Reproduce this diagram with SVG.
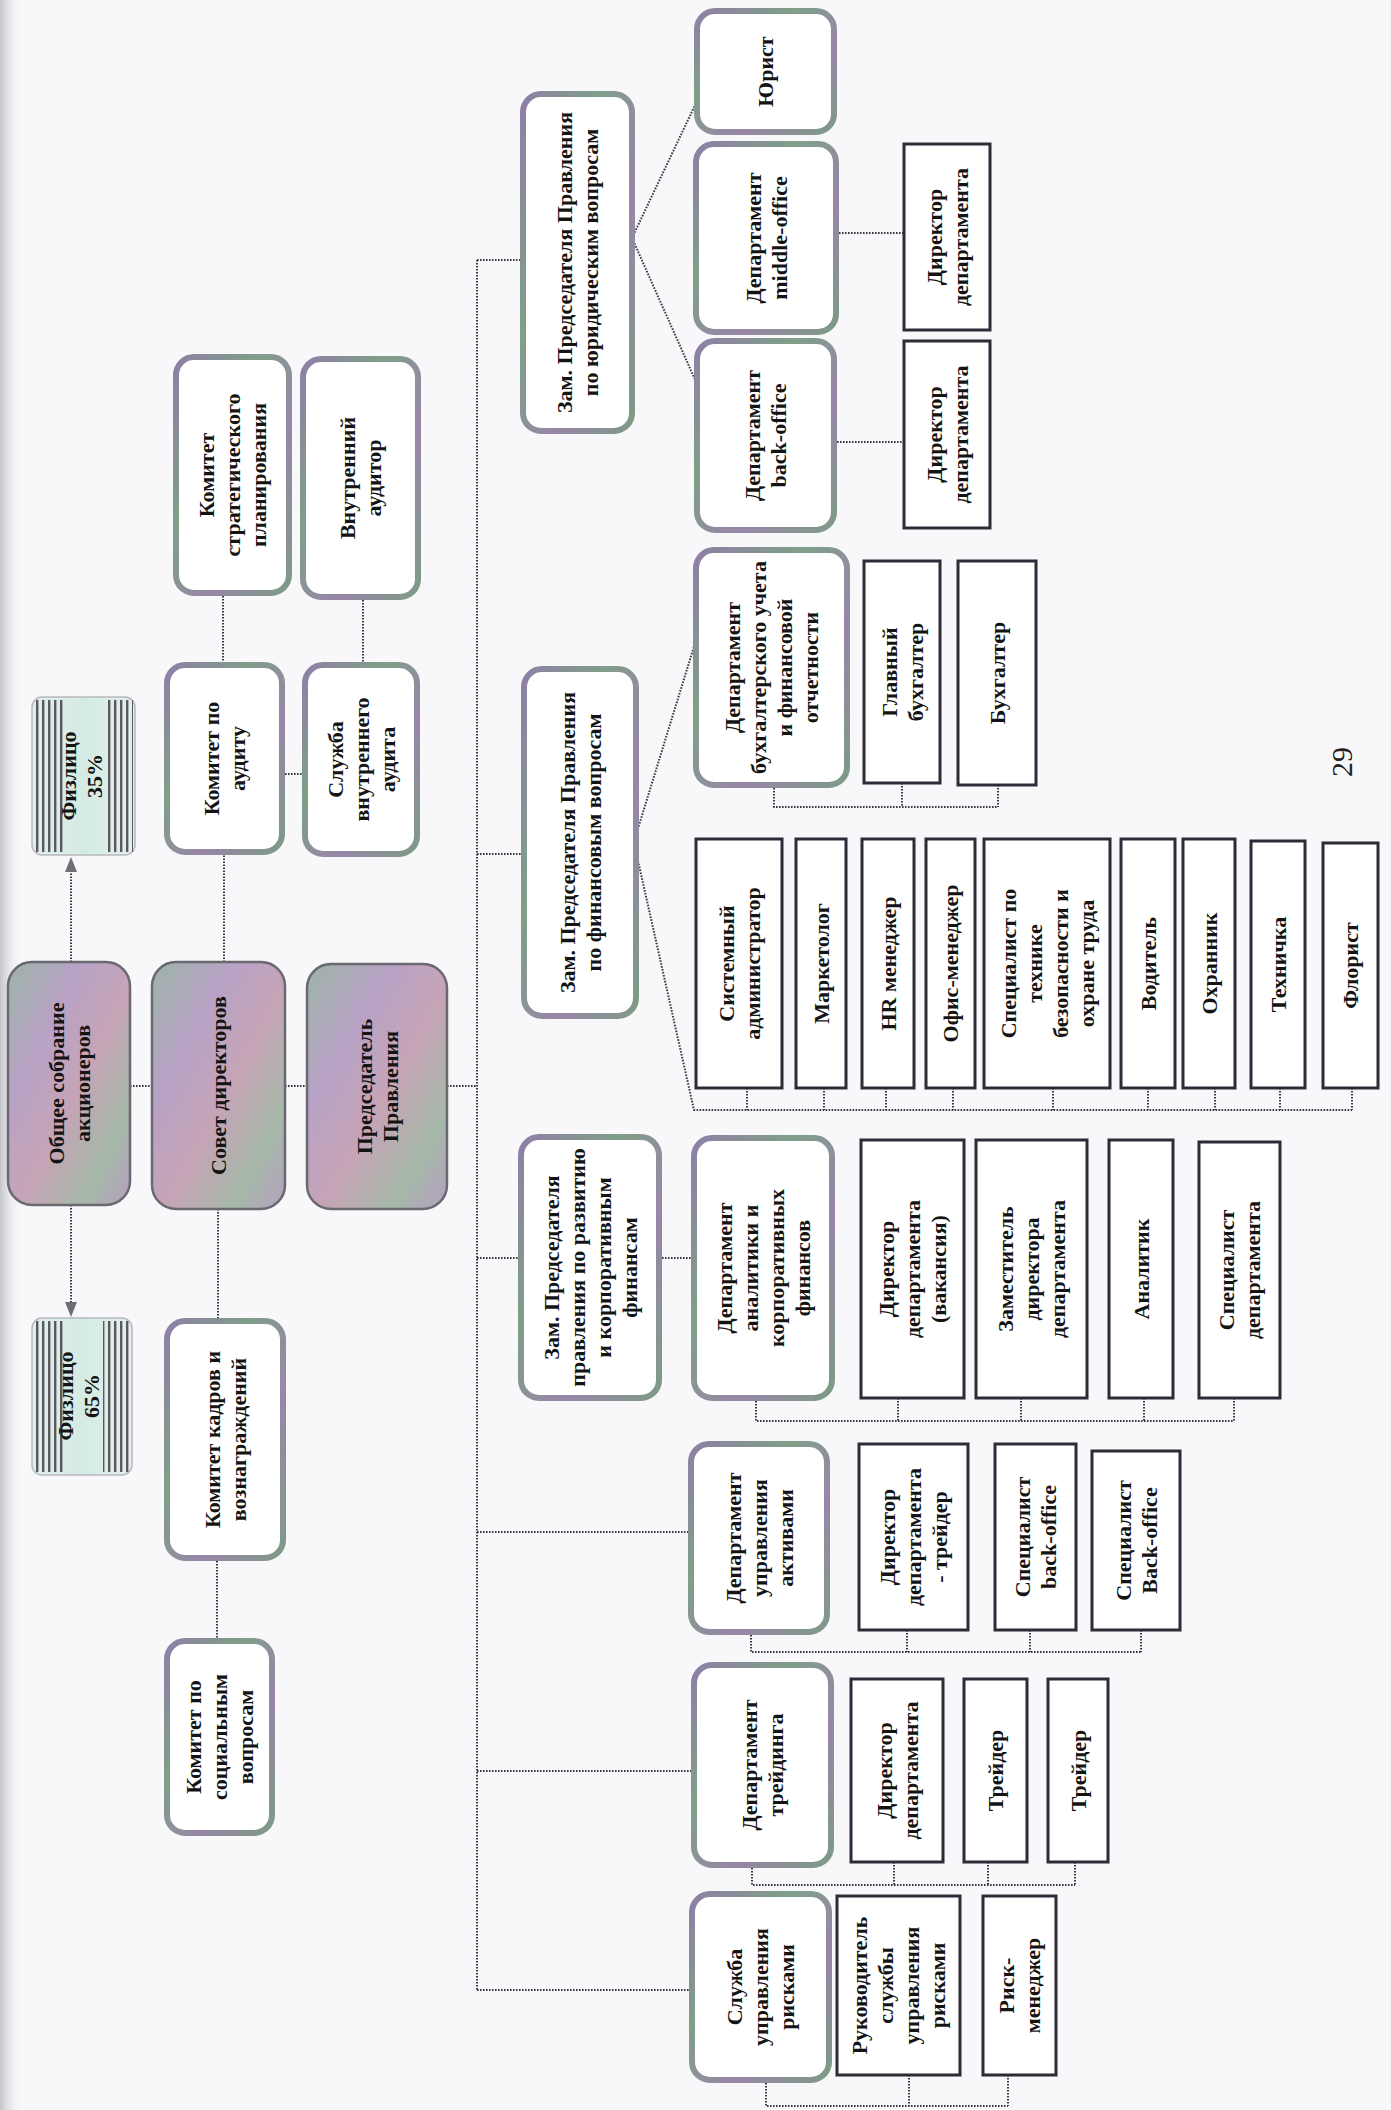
<svg xmlns="http://www.w3.org/2000/svg" width="1391" height="2110" viewBox="0 0 1391 2110">
<style>
.t{font-family:"Liberation Serif","Times New Roman",serif;font-weight:bold;font-size:22px;fill:#141414;text-anchor:middle}
.rn{fill:#ffffff;stroke:url(#rb);stroke-width:6}
.tn{fill:url(#tf);stroke:#6a6870;stroke-width:2.5}
.sq{fill:#ffffff;stroke:#2f2b36;stroke-width:3}
.fz{fill:url(#fzf);stroke:#b8b8c0;stroke-width:1.5}
.c{fill:none;stroke:#3a3a40;stroke-width:2;stroke-dasharray:1.6 1.4}
.ar{fill:#6e6e74}
</style>
<defs>
<linearGradient id="rb" x1="0" y1="0" x2="1" y2="1">
<stop offset="0" stop-color="#8f7fa6"/>
<stop offset="0.35" stop-color="#7f9f88"/>
<stop offset="0.65" stop-color="#9886a8"/>
<stop offset="1" stop-color="#7e9a86"/>
</linearGradient>
<linearGradient id="tf" x1="0" y1="0" x2="1" y2="1">
<stop offset="0" stop-color="#9cb4a6"/>
<stop offset="0.3" stop-color="#b8a2c6"/>
<stop offset="0.55" stop-color="#c6a4b6"/>
<stop offset="0.8" stop-color="#a6b8a8"/>
<stop offset="1" stop-color="#b4a0c0"/>
</linearGradient>
<linearGradient id="fzf" x1="0" y1="0" x2="1" y2="0">
<stop offset="0" stop-color="#e2eeea"/>
<stop offset="0.5" stop-color="#d4ebe4"/>
<stop offset="1" stop-color="#e6efec"/>
</linearGradient>
<linearGradient id="edge" x1="0" y1="0" x2="1" y2="0">
<stop offset="0" stop-color="#c4c4ca"/>
<stop offset="1" stop-color="#f7f7f9" stop-opacity="0"/>
</linearGradient>
<pattern id="st" width="6" height="10" patternUnits="userSpaceOnUse">
<rect x="0" y="0" width="2.4" height="10" fill="#59595f"/>
</pattern>
</defs>
<rect x="0" y="0" width="1391" height="2110" fill="#f8f8fa"/>
<rect x="0" y="0" width="22" height="2110" fill="url(#edge)"/>

<g id="connectors">
<path class="c" d="M71 962V872M71 1205V1302"/>
<polygon class="ar" points="65,872 77,872 71,857"/>
<polygon class="ar" points="65,1302 77,1302 71,1317"/>
<path class="c" d="M130 1086H152M285 1086H307M447 1086H477"/>
<path class="c" d="M224 962V852M223 593V665M363 597V665M282 774H305M218 1209V1321M217 1558V1641"/>
<path class="c" d="M477 260V1990"/>
<path class="c" d="M477 260H523M477 854H524M477 1258H521M477 1532H691M477 1771H694M477 1990H692"/>
<path class="c" d="M632 238L697 101M632 238L697 384M836 233H904M834 442H904"/>
<path class="c" d="M636 835L696 640M636 852L694 1110H1352"/>
<path class="c" d="M747 1088V1110M824 1088V1110M886 1088V1110M953 1088V1110M1053 1088V1110M1148 1088V1110M1215 1088V1110M1280 1088V1110M1352 1088V1110"/>
<path class="c" d="M774 785V807H998M902 783V807M998 785V807"/>
<path class="c" d="M659 1258H694"/>
<path class="c" d="M756 1398V1421H1234M898 1398V1421M1021 1398V1421M1144 1398V1421M1234 1398V1421"/>
<path class="c" d="M751 1632V1652H1141M907 1630V1652M1030 1630V1652M1141 1630V1652"/>
<path class="c" d="M752 1865V1885H1075M894 1862V1885M988 1862V1885M1075 1862V1885"/>
<path class="c" d="M766 2080V2106H1008M909 2075V2106M1008 2075V2106"/>
</g>

<g id="f35">
<rect class="fz" x="32" y="697" width="103" height="158" rx="10"/>
<rect x="34" y="700" width="30" height="152" fill="url(#st)"/>
<rect x="106" y="700" width="27" height="152" fill="url(#st)"/>
<text class="t" transform="translate(81 776) rotate(-90)"><tspan x="0" y="-5.5">Физлицо</tspan><tspan x="0" y="20.5">35%</tspan></text>
</g>
<g id="f65">
<rect class="fz" x="32" y="1318" width="100" height="157" rx="10"/>
<rect x="34" y="1321" width="30" height="151" fill="url(#st)"/>
<rect x="103" y="1321" width="27" height="151" fill="url(#st)"/>
<text class="t" transform="translate(78 1396) rotate(-90)"><tspan x="0" y="-5.5">Физлицо</tspan><tspan x="0" y="20.5">65%</tspan></text>
</g>

<g id="obsh"><rect class="tn" x="8" y="962" width="122" height="243" rx="24"/>
<text class="t" transform="translate(69 1083.5) rotate(-90)"><tspan x="0" y="-5.5">Общее собрание</tspan><tspan x="0" y="20.5">акционеров</tspan></text></g>
<g id="sovet"><rect class="tn" x="152" y="962" width="133" height="247" rx="24"/>
<text class="t" transform="translate(218.5 1085.5) rotate(-90)"><tspan x="0" y="7.5">Совет директоров</tspan></text></g>
<g id="pred"><rect class="tn" x="307" y="964" width="140" height="245" rx="24"/>
<text class="t" transform="translate(377 1086.5) rotate(-90)"><tspan x="0" y="-5.5">Председатель</tspan><tspan x="0" y="20.5">Правления</tspan></text></g>

<g id="kom_strat"><rect class="rn" x="176" y="357" width="113" height="236" rx="18"/>
<text class="t" transform="translate(232.5 475) rotate(-90)"><tspan x="0" y="-18.5">Комитет</tspan><tspan x="0" y="7.5">стратегического</tspan><tspan x="0" y="33.5">планирования</tspan></text></g>
<g id="vnutr_aud"><rect class="rn" x="303" y="359" width="115" height="238" rx="18"/>
<text class="t" transform="translate(360.5 478) rotate(-90)"><tspan x="0" y="-5.5">Внутренний</tspan><tspan x="0" y="20.5">аудитор</tspan></text></g>
<g id="kom_audit"><rect class="rn" x="167" y="665" width="115" height="187" rx="18"/>
<text class="t" transform="translate(224.5 758.5) rotate(-90)"><tspan x="0" y="-5.5">Комитет по</tspan><tspan x="0" y="20.5">аудиту</tspan></text></g>
<g id="sluzhba_va"><rect class="rn" x="305" y="665" width="112" height="189" rx="18"/>
<text class="t" transform="translate(361 759.5) rotate(-90)"><tspan x="0" y="-18.5">Служба</tspan><tspan x="0" y="7.5">внутреннего</tspan><tspan x="0" y="33.5">аудита</tspan></text></g>
<g id="kom_kadr"><rect class="rn" x="167" y="1321" width="116" height="237" rx="18"/>
<text class="t" transform="translate(225 1439.5) rotate(-90)"><tspan x="0" y="-5.5">Комитет кадров и</tspan><tspan x="0" y="20.5">вознаграждений</tspan></text></g>
<g id="kom_soc"><rect class="rn" x="167" y="1641" width="105" height="192" rx="18"/>
<text class="t" transform="translate(219.5 1737) rotate(-90)"><tspan x="0" y="-18.5">Комитет  по</tspan><tspan x="0" y="7.5">социальным</tspan><tspan x="0" y="33.5">вопросам</tspan></text></g>

<g id="zam_jur"><rect class="rn" x="523" y="94" width="109" height="337" rx="18"/>
<text class="t" transform="translate(577.5 262.5) rotate(-90)"><tspan x="0" y="-5.5">Зам. Председателя Правления</tspan><tspan x="0" y="20.5">по юридическим вопросам</tspan></text></g>
<g id="jurist"><rect class="rn" x="697" y="11" width="137" height="121" rx="18"/>
<text class="t" transform="translate(765.5 71.5) rotate(-90)"><tspan x="0" y="7.5">Юрист</tspan></text></g>
<g id="dep_mid"><rect class="rn" x="696" y="144" width="140" height="188" rx="18"/>
<text class="t" transform="translate(766 238) rotate(-90)"><tspan x="0" y="-5.5">Департамент</tspan><tspan x="0" y="20.5">middle-office</tspan></text></g>
<g id="dep_back"><rect class="rn" x="697" y="341" width="137" height="189" rx="18"/>
<text class="t" transform="translate(765.5 435.5) rotate(-90)"><tspan x="0" y="-5.5">Департамент</tspan><tspan x="0" y="20.5">back-office</tspan></text></g>
<g id="dep_buh"><rect class="rn" x="696" y="550" width="151" height="235" rx="18"/>
<text class="t" transform="translate(771.5 667.5) rotate(-90)"><tspan x="0" y="-31.5">Департамент</tspan><tspan x="0" y="-5.5">бухгалтерского учета</tspan><tspan x="0" y="20.5">и финансовой</tspan><tspan x="0" y="46.5">отчетности</tspan></text></g>
<g id="zam_fin"><rect class="rn" x="524" y="669" width="112" height="347" rx="18"/>
<text class="t" transform="translate(580 842.5) rotate(-90)"><tspan x="0" y="-5.5">Зам. Председателя Правления</tspan><tspan x="0" y="20.5">по финансовым вопросам</tspan></text></g>
<g id="zam_razv"><rect class="rn" x="521" y="1137" width="138" height="261" rx="18"/>
<text class="t" transform="translate(590 1267.5) rotate(-90)"><tspan x="0" y="-31.5">Зам. Председателя</tspan><tspan x="0" y="-5.5">правления по  развитию</tspan><tspan x="0" y="20.5">и корпоративным</tspan><tspan x="0" y="46.5">финансам</tspan></text></g>
<g id="dep_anal"><rect class="rn" x="694" y="1138" width="138" height="260" rx="18"/>
<text class="t" transform="translate(763 1268) rotate(-90)"><tspan x="0" y="-31.5">Департамент</tspan><tspan x="0" y="-5.5">аналитики и</tspan><tspan x="0" y="20.5">корпоративных</tspan><tspan x="0" y="46.5">финансов</tspan></text></g>
<g id="dep_akt"><rect class="rn" x="691" y="1444" width="136" height="188" rx="18"/>
<text class="t" transform="translate(759 1538) rotate(-90)"><tspan x="0" y="-18.5">Департамент</tspan><tspan x="0" y="7.5">управления</tspan><tspan x="0" y="33.5">активами</tspan></text></g>
<g id="dep_trade"><rect class="rn" x="694" y="1665" width="137" height="200" rx="18"/>
<text class="t" transform="translate(762.5 1765) rotate(-90)"><tspan x="0" y="-5.5">Департамент</tspan><tspan x="0" y="20.5">трейдинга</tspan></text></g>
<g id="sl_risk"><rect class="rn" x="692" y="1894" width="137" height="186" rx="18"/>
<text class="t" transform="translate(760.5 1987) rotate(-90)"><tspan x="0" y="-18.5">Служба</tspan><tspan x="0" y="7.5">управления</tspan><tspan x="0" y="33.5">рисками</tspan></text></g>

<g id="dir_mid"><rect class="sq" x="904" y="144" width="86" height="186"/>
<text class="t" transform="translate(947 237) rotate(-90)"><tspan x="0" y="-5.5">Директор</tspan><tspan x="0" y="20.5">департамента</tspan></text></g>
<g id="dir_back"><rect class="sq" x="904" y="341" width="86" height="187"/>
<text class="t" transform="translate(947 434.5) rotate(-90)"><tspan x="0" y="-5.5">Директор</tspan><tspan x="0" y="20.5">департамента</tspan></text></g>
<g id="gl_buh"><rect class="sq" x="864" y="561" width="76" height="222"/>
<text class="t" transform="translate(902 672) rotate(-90)"><tspan x="0" y="-5.5">Главный</tspan><tspan x="0" y="20.5">бухгалтер</tspan></text></g>
<g id="buh"><rect class="sq" x="958" y="561" width="78" height="224"/>
<text class="t" transform="translate(997 673) rotate(-90)"><tspan x="0" y="7.5">Бухгалтер</tspan></text></g>

<g id="sysadm"><rect class="sq" x="696" y="839" width="86" height="249"/>
<text class="t" transform="translate(739 963.5) rotate(-90)"><tspan x="0" y="-5.5">Системный</tspan><tspan x="0" y="20.5">администратор</tspan></text></g>
<g id="market"><rect class="sq" x="796" y="839" width="50" height="249"/>
<text class="t" transform="translate(821 963.5) rotate(-90)"><tspan x="0" y="7.5">Маркетолог</tspan></text></g>
<g id="hr"><rect class="sq" x="862" y="839" width="52" height="249"/>
<text class="t" transform="translate(888 963.5) rotate(-90)"><tspan x="0" y="7.5">HR менеджер</tspan></text></g>
<g id="office"><rect class="sq" x="926" y="839" width="49" height="249"/>
<text class="t" transform="translate(950.5 963.5) rotate(-90)"><tspan x="0" y="7.5">Офис-менеджер</tspan></text></g>
<g id="spec_tb"><rect class="sq" x="984" y="839" width="126" height="249"/>
<text class="t" transform="translate(1047 963.5) rotate(-90)"><tspan x="0" y="-31.5">Специалист по</tspan><tspan x="0" y="-5.5">технике</tspan><tspan x="0" y="20.5">безопасности и</tspan><tspan x="0" y="46.5">охране труда</tspan></text></g>
<g id="voditel"><rect class="sq" x="1121" y="839" width="54" height="249"/>
<text class="t" transform="translate(1148 963.5) rotate(-90)"><tspan x="0" y="7.5">Водитель</tspan></text></g>
<g id="ohran"><rect class="sq" x="1183" y="839" width="52" height="249"/>
<text class="t" transform="translate(1209 963.5) rotate(-90)"><tspan x="0" y="7.5">Охранник</tspan></text></g>
<g id="tehn"><rect class="sq" x="1251" y="841" width="54" height="247"/>
<text class="t" transform="translate(1278 964.5) rotate(-90)"><tspan x="0" y="7.5">Техничка</tspan></text></g>
<g id="florist"><rect class="sq" x="1323" y="843" width="55" height="245"/>
<text class="t" transform="translate(1350.5 965.5) rotate(-90)"><tspan x="0" y="7.5">Флорист</tspan></text></g>

<g id="dir_vak"><rect class="sq" x="861" y="1140" width="103" height="258"/>
<text class="t" transform="translate(912.5 1269) rotate(-90)"><tspan x="0" y="-18.5">Директор</tspan><tspan x="0" y="7.5">департамента</tspan><tspan x="0" y="33.5">(вакансия)</tspan></text></g>
<g id="zam_dir"><rect class="sq" x="976" y="1140" width="111" height="258"/>
<text class="t" transform="translate(1031.5 1269) rotate(-90)"><tspan x="0" y="-18.5">Заместитель</tspan><tspan x="0" y="7.5">директора</tspan><tspan x="0" y="33.5">департамента</tspan></text></g>
<g id="analitik"><rect class="sq" x="1109" y="1140" width="64" height="258"/>
<text class="t" transform="translate(1141 1269) rotate(-90)"><tspan x="0" y="7.5">Аналитик</tspan></text></g>
<g id="spec_dep"><rect class="sq" x="1199" y="1142" width="81" height="256"/>
<text class="t" transform="translate(1239.5 1270) rotate(-90)"><tspan x="0" y="-5.5">Специалист</tspan><tspan x="0" y="20.5">департамента</tspan></text></g>

<g id="dir_trader"><rect class="sq" x="859" y="1444" width="109" height="186"/>
<text class="t" transform="translate(913.5 1537) rotate(-90)"><tspan x="0" y="-18.5">Директор</tspan><tspan x="0" y="7.5">департамента</tspan><tspan x="0" y="33.5">- трейдер</tspan></text></g>
<g id="spec_bo"><rect class="sq" x="995" y="1444" width="81" height="186"/>
<text class="t" transform="translate(1035.5 1537) rotate(-90)"><tspan x="0" y="-5.5">Специалист</tspan><tspan x="0" y="20.5">back-office</tspan></text></g>
<g id="spec_BO"><rect class="sq" x="1092" y="1451" width="88" height="179"/>
<text class="t" transform="translate(1136 1540.5) rotate(-90)"><tspan x="0" y="-5.5">Специалист</tspan><tspan x="0" y="20.5">Back-office</tspan></text></g>

<g id="dir_trade"><rect class="sq" x="851" y="1679" width="92" height="183"/>
<text class="t" transform="translate(897 1770.5) rotate(-90)"><tspan x="0" y="-5.5">Директор</tspan><tspan x="0" y="20.5">департамента</tspan></text></g>
<g id="trader1"><rect class="sq" x="964" y="1679" width="63" height="183"/>
<text class="t" transform="translate(995.5 1770.5) rotate(-90)"><tspan x="0" y="7.5">Трейдер</tspan></text></g>
<g id="trader2"><rect class="sq" x="1048" y="1679" width="60" height="183"/>
<text class="t" transform="translate(1078 1770.5) rotate(-90)"><tspan x="0" y="7.5">Трейдер</tspan></text></g>

<g id="ruk_risk"><rect class="sq" x="837" y="1896" width="123" height="179"/>
<text class="t" transform="translate(898.5 1985.5) rotate(-90)"><tspan x="0" y="-31.5">Руководитель</tspan><tspan x="0" y="-5.5">службы</tspan><tspan x="0" y="20.5">управления</tspan><tspan x="0" y="46.5">рисками</tspan></text></g>
<g id="risk_men"><rect class="sq" x="983" y="1896" width="73" height="179"/>
<text class="t" transform="translate(1019.5 1985.5) rotate(-90)"><tspan x="0" y="-5.5">Риск-</tspan><tspan x="0" y="20.5">менеджер</tspan></text></g>

<text transform="translate(1352 762) rotate(-90)" style="font-family:'Liberation Serif','Times New Roman',serif;font-size:30px;fill:#222;text-anchor:middle">29</text>
</svg>
